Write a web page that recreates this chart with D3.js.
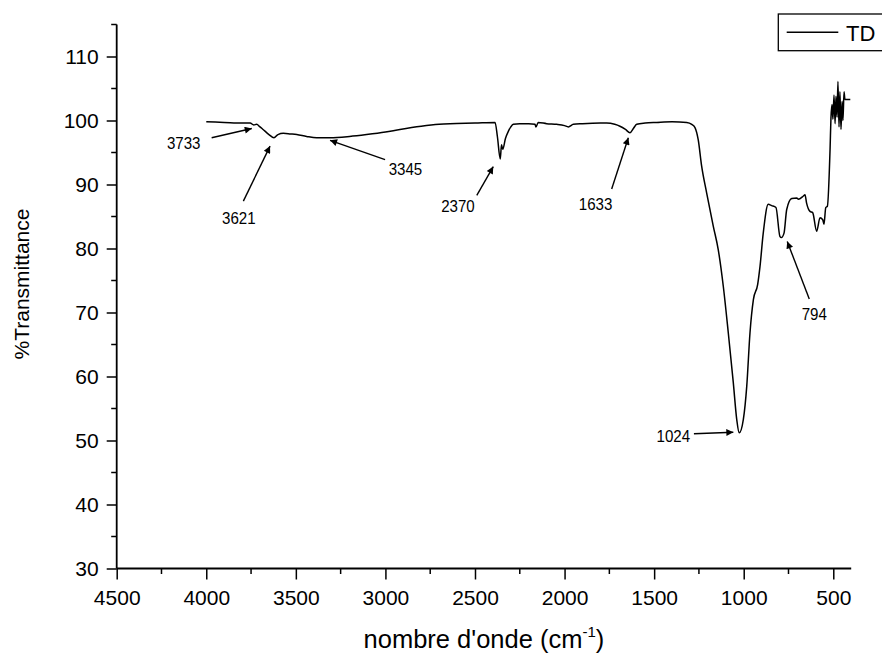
<!DOCTYPE html>
<html>
<head>
<meta charset="utf-8">
<script src="https://cdn.jsdelivr.net/npm/d3@7"></script>
<style>
  html, body { margin: 0; padding: 0; background: #fff; }
  svg { display: block; }
</style>
</head>
<body>
<svg id="chart" width="882" height="655"></svg>
<script>
// ---- data ----
const seriesName = "TD";
const wavenumber = [
  4000, 3900, 3800, 3755, 3735, 3719, 3700, 3683, 3650, 3622, 3600, 3570, 3530, 3495, 3440, 3384, 3309, 3200, 3105, 3000,
  2919, 2800, 2700, 2640, 2500, 2388, 2375, 2359, 2352, 2345, 2330, 2314, 2300, 2286, 2250, 2200, 2165, 2160, 2147, 2100,
  2044, 2000, 1979, 1951, 1900, 1800, 1765, 1720, 1691, 1660, 1635, 1615, 1597, 1550, 1486, 1400, 1318, 1290, 1272, 1254,
  1235, 1207, 1170, 1142, 1114, 1086, 1058, 1039, 1025, 1002, 983, 965, 946, 922, 909, 891, 863, 844, 820, 798,
  790, 775, 760, 732, 704, 695, 667, 658, 649, 630, 615, 593, 574, 559, 552, 542, 533, 518, 513, 507,
  502, 496, 490, 485, 479, 474, 468, 463, 457, 451, 446, 440, 435, 405
];
const transmittance = [
  99.8, 99.7, 99.6, 99.6, 99.3, 99.4, 99.0, 98.6, 97.8, 97.3, 97.8, 98.0, 97.9, 97.8, 97.5, 97.3, 97.3, 97.5, 97.8, 98.2,
  98.6, 99.1, 99.4, 99.5, 99.6, 99.7, 97.5, 94.0, 96.2, 95.5, 97.2, 98.3, 99.0, 99.4, 99.5, 99.5, 99.4, 99.0, 99.7, 99.5,
  99.4, 99.2, 99.0, 99.4, 99.5, 99.6, 99.6, 99.4, 99.1, 98.6, 98.1, 98.8, 99.4, 99.6, 99.7, 99.8, 99.7, 99.4, 98.9, 97.0,
  92.9, 88.7, 83.5, 79.8, 74.1, 66.8, 59.0, 53.3, 51.2, 53.3, 58.5, 66.8, 72.0, 74.4, 77.2, 82.4, 86.9, 86.7, 86.4, 81.9,
  81.7, 82.4, 86.1, 87.8, 87.9, 87.7, 88.2, 88.4, 87.1, 85.8, 85.6, 82.7, 84.8, 84.5, 83.8, 86.4, 86.6, 95.5, 100.4, 102.5,
  100.2, 104.0, 99.5, 103.8, 100.5, 106.1, 99.0, 104.5, 98.6, 103.0, 100.0, 104.5, 103.3, 103.3
];
const xTickValues = [4500, 4000, 3500, 3000, 2500, 2000, 1500, 1000, 500];
const xMinorTicks = [4250, 3750, 3250, 2750, 2250, 1750, 1250, 750];
const yTickValues = [30, 40, 50, 60, 70, 80, 90, 100, 110];
const yMinorTicks = [35, 45, 55, 65, 75, 85, 95, 105, 115];
// annotations: label, arrow tip (wavenumber, %T), arrow tail, label centre
const annLabels = ["3733", "3621", "3345", "2370", "1633", "1024", "794"];
const annTip    = [[3746, 98.75], [3644, 96.0], [3309, 96.9], [2398, 92.8], [1644, 97.3], [1058, 51.3], [757, 81.1]];
const annTail   = [[3970, 97.3], [3793, 87.4], [3002, 93.9], [2490, 88.3], [1737, 89.3], [1278, 51.05], [634, 72.1]];
const annText   = [[4126, 96.5], [3818, 84.8], [2888, 92.45], [2595, 86.6], [1827, 86.9], [1393, 50.7], [606, 69.7]];

// ---- chart ----
(function () {
const svg = d3.select("#chart");
const mLeft = 116.7, mRight = 851.2, mTop = 24.5, mBottom = 568.5;
const x = d3.scaleLinear().domain([4500, 400]).range([mLeft, mRight]);
const y = d3.scaleLinear().domain([30, 115]).range([mBottom, mTop]);
const font = "'Liberation Sans', Arial, Helvetica, sans-serif";

svg.append("defs").append("marker")
  .attr("id", "arrow").attr("viewBox", "0 0 10 10")
  .attr("refX", 10).attr("refY", 5)
  .attr("markerWidth", 11).attr("markerHeight", 7)
  .attr("markerUnits", "userSpaceOnUse")
  .attr("orient", "auto")
  .append("path").attr("d", "M0,0 L10,5 L0,10 z").attr("fill", "#000");

// spectrum
const pts = wavenumber.map((w, i) => [w, transmittance[i]]);
svg.append("path")
  .datum(pts)
  .attr("fill", "none")
  .attr("stroke", "#000")
  .attr("stroke-width", 1.5)
  .attr("stroke-linejoin", "round")
  .attr("d", d3.line().curve(d3.curveMonotoneX).x(d => x(d[0])).y(d => y(d[1])));

// x axis
const gx = svg.append("g").attr("transform", `translate(0,${mBottom})`);
gx.call(d3.axisBottom(x).tickValues(xTickValues).tickSize(11).tickPadding(11).tickFormat(d3.format("d")));
gx.selectAll("line.minor")
  .data(xMinorTicks).enter()
  .append("line").attr("class", "minor").attr("x1", d => x(d)).attr("x2", d => x(d)).attr("y1", 0).attr("y2", 5.5)
  .attr("stroke", "#000").attr("stroke-width", 1.5);
gx.select(".domain").attr("d", `M${mLeft},0H${mRight}`);

// y axis
const gy = svg.append("g").attr("transform", `translate(${mLeft},0)`);
gy.call(d3.axisLeft(y).tickValues(yTickValues).tickSize(10).tickPadding(8).tickFormat(d3.format("d")));
gy.selectAll("line.minor")
  .data(yMinorTicks).enter()
  .append("line").attr("class", "minor").attr("x1", 0).attr("x2", -5.5).attr("y1", d => y(d)).attr("y2", d => y(d))
  .attr("stroke", "#000").attr("stroke-width", 1.5);
gy.select(".domain").attr("d", `M0,${mBottom}V${mTop}`);

[gx, gy].forEach(g => {
  g.selectAll("path.domain").attr("stroke", "#000").attr("stroke-width", 1.8);
  g.selectAll(".tick line").attr("stroke", "#000").attr("stroke-width", 1.5);
  g.selectAll(".tick text").attr("font-family", font).attr("font-size", 21).attr("fill", "#000");
});

// axis titles
svg.append("text")
  .attr("x", (mLeft + mRight) / 2).attr("y", 648)
  .attr("text-anchor", "middle")
  .attr("font-family", font).attr("font-size", 25.5)
  .call(t => {
    t.append("tspan").text("nombre d'onde (cm");
    t.append("tspan").attr("font-size", 15).attr("dy", -11).text("-1");
    t.append("tspan").attr("dy", 11).text(")");
  });

svg.append("text")
  .attr("transform", `translate(29,284) rotate(-90)`)
  .attr("text-anchor", "middle")
  .attr("font-family", font).attr("font-size", 21)
  .text("%Transmittance");

// annotations
const ann = svg.append("g");
annLabels.forEach((lab, i) => {
  ann.append("line")
    .attr("x1", x(annTail[i][0])).attr("y1", y(annTail[i][1]))
    .attr("x2", x(annTip[i][0])).attr("y2", y(annTip[i][1]))
    .attr("stroke", "#000").attr("stroke-width", 1.4)
    .attr("marker-end", "url(#arrow)");
  ann.append("text")
    .attr("x", x(annText[i][0])).attr("y", y(annText[i][1]))
    .attr("dy", "0.36em")
    .attr("text-anchor", "middle")
    .attr("font-family", font)
    .attr("font-size", 16.5)
    .attr("textLength", lab.length * 8.4)
    .attr("lengthAdjust", "spacingAndGlyphs")
    .text(lab);
});

// legend
const lg = svg.append("g");
lg.append("rect").attr("x", 778.3).attr("y", 14).attr("width", 130).attr("height", 36.7)
  .attr("fill", "#fff").attr("stroke", "#000").attr("stroke-width", 1.3);
lg.append("line").attr("x1", 786.7).attr("x2", 838.3).attr("y1", 32.3).attr("y2", 32.3)
  .attr("stroke", "#000").attr("stroke-width", 1.5);
lg.append("text").attr("x", 846).attr("y", 40.5)
  .attr("font-family", font).attr("font-size", 22).text(seriesName);
})();
</script>
</body>
</html>
